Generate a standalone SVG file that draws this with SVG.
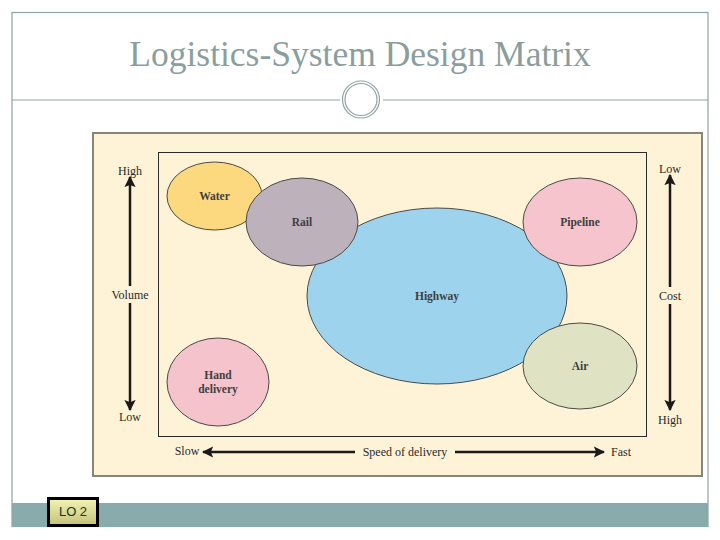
<svg xmlns="http://www.w3.org/2000/svg" width="720" height="540" viewBox="0 0 720 540">
<defs>
<marker id="ah" viewBox="0 0 10 10" refX="9" refY="5" markerWidth="4.5" markerHeight="4.5" orient="auto" markerUnits="strokeWidth">
<path d="M0,0 L10,5 L0,10 L2,5 Z" fill="#1a1a1a"/>
</marker>
<linearGradient id="lo" x1="0" y1="0" x2="0" y2="1">
<stop offset="0" stop-color="#f4f4b4"/>
<stop offset="1" stop-color="#c2c27a"/>
</linearGradient>
</defs>
<style>
.frame{fill:none;stroke:#8fa3a3;stroke-width:1.2}
.bub{stroke:#4a4a4a;stroke-width:1}
.lbl{font-family:"Liberation Serif",serif;font-size:11.5px;font-weight:bold;fill:#3f3f3f;text-anchor:middle}
.ax{font-family:"Liberation Serif",serif;font-size:12px;fill:#2a2a2a;text-anchor:middle}
.arr{stroke:#1a1a1a;stroke-width:2.5;fill:none;marker-end:url(#ah)}
</style>
<rect width="720" height="540" fill="#ffffff"/>
<rect class="frame" x="12" y="12.5" width="696" height="514"/>
<text x="360" y="66" font-family="Liberation Serif,serif" font-size="35.5" fill="#8a9e9e" text-anchor="middle">Logistics-System Design Matrix</text>
<line x1="12" y1="100" x2="340" y2="100" stroke="#8fa3a3" stroke-width="1.2"/>
<line x1="383" y1="100" x2="708" y2="100" stroke="#8fa3a3" stroke-width="1.2"/>
<circle cx="361" cy="99.5" r="18.5" fill="none" stroke="#8fa3a3" stroke-width="1.2"/>
<circle cx="361" cy="99.5" r="16" fill="none" stroke="#8fa3a3" stroke-width="1.2"/>
<rect x="12" y="503" width="696" height="24" fill="#8aabab"/>
<g id="lo2">
<rect x="48.5" y="498.5" width="49" height="27" fill="url(#lo)" stroke="#000" stroke-width="3"/>
<text x="73" y="516" font-family="Liberation Sans,sans-serif" font-size="13" fill="#223322" text-anchor="middle">LO 2</text>
</g>
<rect x="93" y="133" width="609" height="343" fill="#fef3d6" stroke="#85857c" stroke-width="2"/>
<rect x="158.5" y="152.5" width="488" height="284" fill="none" stroke="#2a2a2a" stroke-width="1"/>
<g id="highway"><ellipse class="bub" cx="437" cy="296" rx="130" ry="88" fill="#9dd3ec"/><text class="lbl" x="437" y="300">Highway</text></g>
<g id="water"><ellipse class="bub" cx="214.5" cy="196" rx="47.5" ry="34" fill="#fcd97e"/><text class="lbl" x="214.5" y="200">Water</text></g>
<g id="rail"><ellipse class="bub" cx="302" cy="222" rx="56" ry="44" fill="#bdb1bb"/><text class="lbl" x="302" y="226">Rail</text></g>
<g id="pipeline"><ellipse class="bub" cx="580" cy="222" rx="57" ry="44" fill="#f6c4cd"/><text class="lbl" x="580" y="226">Pipeline</text></g>
<g id="air"><ellipse class="bub" cx="580" cy="366" rx="57" ry="43" fill="#dfe3c3"/><text class="lbl" x="580" y="370">Air</text></g>
<g id="hand"><ellipse class="bub" cx="218" cy="382" rx="51" ry="44" fill="#f5c3cc"/><text class="lbl" x="218" y="379">Hand</text><text class="lbl" x="218" y="393">delivery</text></g>
<g id="axes">
<line class="arr" x1="130" y1="286" x2="130" y2="177"/>
<line class="arr" x1="130" y1="303" x2="130" y2="410"/>
<line class="arr" x1="670" y1="287" x2="670" y2="175"/>
<line class="arr" x1="670" y1="304" x2="670" y2="410"/>
<line class="arr" x1="355" y1="452" x2="203" y2="452"/>
<line class="arr" x1="455" y1="452" x2="604" y2="452"/>
</g>
<text class="ax" x="130" y="175">High</text>
<text class="ax" x="130" y="299">Volume</text>
<text class="ax" x="130" y="421">Low</text>
<text class="ax" x="670" y="173">Low</text>
<text class="ax" x="670" y="300">Cost</text>
<text class="ax" x="670" y="424">High</text>
<text class="ax" x="187" y="455">Slow</text>
<text class="ax" x="405" y="456">Speed of delivery</text>
<text class="ax" x="621" y="456">Fast</text>
</svg>
